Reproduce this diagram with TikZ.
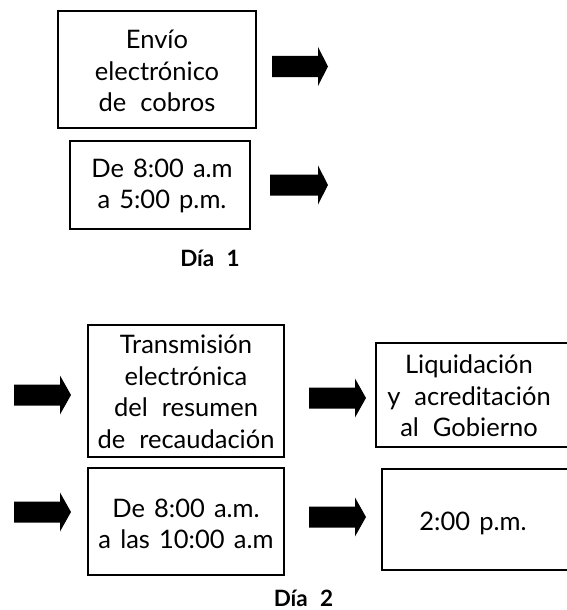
\documentclass[tikz,border=0pt]{standalone}
\usepackage{fontspec}
\setmainfont[WordSpace=1.4]{Lato}
\newcommand\gap{\hspace{0.55em}}
\begin{document}
\begin{tikzpicture}[x=1pt,y=-1pt,
  box/.style={draw=black,line width=1.3pt},
  txt/.style={align=center,font=\fontsize{25.5}{31.5}\selectfont,inner sep=0pt},
  dia/.style={font=\fontsize{22.5}{26}\selectfont\bfseries,inner sep=0pt,anchor=base},
  blk/.style={fill=black}]
\useasboundingbox (0,0) rectangle (566,610);
% boxes
\draw[box] (58,11) rectangle (256,128);
\draw[box] (70,141) rectangle (250,229);
\draw[box] (88,325) rectangle (284,457);
\draw[box] (88,468) rectangle (284,575);
\draw[box] (376,343) rectangle (569,447);
\draw[box] (382,469) rectangle (569,570);
% texts
\node[txt] (t1) at (157,71) {Envío\\electrónico\\de\gap cobros};
\node[txt] (t2) at (162,186) {De 8:00 a.m\\a 5:00 p.m.};
\node[dia] (d1) at (210,266) {Día\gap 1};
\node[txt] (t3) at (186,392) {Transmisión\\electrónica\\del\gap resumen\\de\gap recaudación};
\node[txt] (t4) at (186,524) {De 8:00 a.m.\\a las 10:00 a.m};
\node[txt] (t5) at (469,396) {Liquidación\\y\gap acreditación\\al\gap Gobierno};
\node[txt] (t6) at (473,523) {2:00 p.m.};
\node[dia] (d2) at (303.5,606) {Día\gap 2};
% arrows: \bigarrow{x0}{xh}{x1}{cy}
\newcommand\bigarrow[4]{\fill[blk] (#1,#4-10.5) -- (#2,#4-10.5) -- (#2,#4-19.5) -- (#3,#4) -- (#2,#4+19.5) -- (#2,#4+10.5) -- (#1,#4+10.5) -- cycle;}
\bigarrow{272}{318}{328}{66.5}
\bigarrow{270}{318}{328}{185}
\bigarrow{14}{60}{71}{395}
\bigarrow{14}{60}{71}{512}
\bigarrow{309}{355}{366}{398}
\bigarrow{309}{355}{366}{517}
\end{tikzpicture}
\end{document}
